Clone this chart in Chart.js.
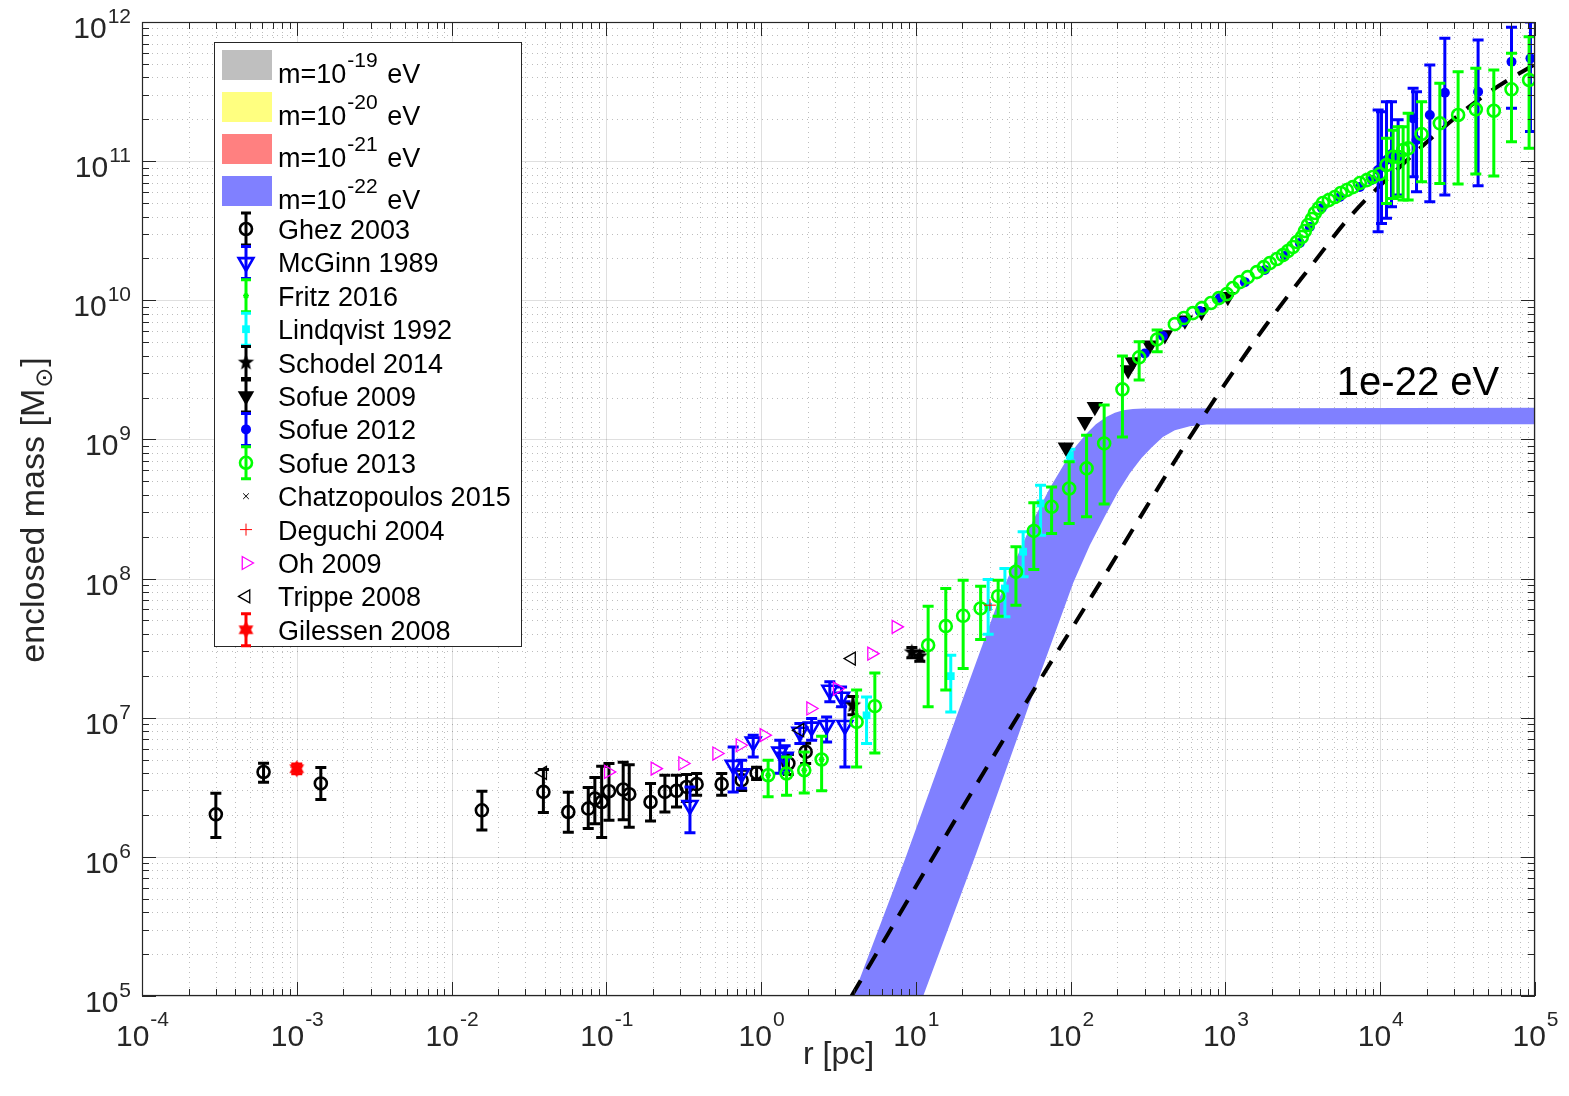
<!DOCTYPE html>
<html>
<head>
<meta charset="utf-8">
<title>Enclosed mass</title>
<script src="https://cdn.jsdelivr.net/npm/chart.js@4.4.1/dist/chart.umd.min.js"></script>
<style>
  html, body { margin: 0; padding: 0; background: #fff; }
</style>
</head>
<body>
<canvas id="massChart" width="1569" height="1096"></canvas>
<script>
// axis ticks (powers of ten)
var xTickExp = [-4, -3, -2, -1, 0, 1, 2, 3, 4, 5];
var yTickExp = [5, 6, 7, 8, 9, 10, 11, 12];

// Ghez 2003
var ghezR  = [3.0e-4, 6.1e-4, 1.43e-3, 0.0157, 0.0392, 0.0568, 0.0764, 0.0843, 0.0933, 0.104, 0.1285, 0.1406, 0.193, 0.239, 0.284, 0.330, 0.383, 0.556, 0.748, 0.935, 1.50, 1.94];
var ghezM  = [2.02e6, 4.07e6, 3.37e6, 2.16e6, 2.93e6, 2.10e6, 2.22e6, 2.62e6, 2.48e6, 2.96e6, 3.05e6, 2.82e6, 2.48e6, 2.93e6, 2.98e6, 3.18e6, 3.33e6, 3.33e6, 3.56e6, 4.01e6, 4.69e6, 5.68e6];
var ghezLo = [1.38e6, 3.44e6, 2.58e6, 1.56e6, 2.08e6, 1.50e6, 1.60e6, 1.73e6, 1.38e6, 1.83e6, 1.85e6, 1.63e6, 1.81e6, 2.10e6, 2.28e6, 2.50e6, 2.77e6, 2.77e6, 3.00e6, 3.60e6, 3.90e6, 4.69e6];
var ghezHi = [2.87e6, 4.71e6, 4.38e6, 2.96e6, 4.25e6, 2.91e6, 3.15e6, 3.72e6, 4.48e6, 4.69e6, 4.79e6, 4.60e6, 3.37e6, 3.86e6, 3.86e6, 3.90e6, 3.97e6, 3.97e6, 4.20e6, 4.40e6, 5.44e6, 6.56e6];

// McGinn 1989
var mcginnR  = [0.347, 0.66, 0.748, 0.889, 1.32, 1.43, 1.78, 2.12, 2.65, 2.78, 3.31, 3.48];
var mcginnM  = [2.35e6, 4.56e6, 3.97e6, 6.70e6, 5.68e6, 5.22e6, 7.9e6, 8.59e6, 8.83e6, 1.58e7, 1.41e7, 8.83e6];
var mcginnLo = [1.49e6, 2.93e6, 3.11e6, 5.22e6, 3.99e6, 4.2e6, 6.52e6, 6.89e6, 6.70e6, 1.30e7, 1.20e7, 4.43e6];
var mcginnHi = [3.18e6, 6.17e6, 4.95e6, 7.48e6, 6.89e6, 6.3e6, 9.08e6, 9.86e6, 1.01e7, 1.81e7, 1.66e7, 1.30e7];

// Fritz 2016
var fritzR = [1.11, 1.46, 1.90, 2.46];
var fritzM = [3.86e6, 3.97e6, 4.19e6, 5.01e6];

// Lindqvist 1992
var lindR  = [4.80, 16.8, 29.3, 37.6, 49.3, 63.9, 98.8];
var lindM  = [1.04e7, 1.99e7, 6.27e7, 8.49e7, 1.56e8, 3.47e8, 7.71e8];
var lindLo = [6.52e6, 1.10e7, 3.98e7, 5.31e7, 1.03e8, 2.05e8, 7.0e8];
var lindHi = [1.41e7, 2.81e7, 9.86e7, 1.18e8, 2.17e8, 4.69e8, 8.5e8];

// Schodel 2014
var schodelR  = [3.92, 9.42, 10.6];
var schodelM  = [1.23e7, 2.96e7, 2.77e7];
var schodelLo = [1.05e7, 2.7e7, 2.55e7];
var schodelHi = [1.42e7, 3.2e7, 3.0e7];

// Sofue 2009
var sofue09R = [93.1, 123.5, 143.3, 235, 252, 325, 406, 547, 701, 1036];
var sofue09M = [8.80e8, 1.34e9, 1.72e9, 3.15e9, 3.60e9, 4.76e9, 5.62e9, 7.2e9, 8.27e9, 1.06e10];

// Sofue 2012
var sofue12R  = [301, 394, 533, 683, 920, 1335, 1797, 2419, 3024, 3509, 4195, 5483, 7384, 8826,
                 9692, 10190, 10980, 11830, 13050, 16310, 17160, 20910, 26150, 42890, 70500, 93500];
var sofue12M  = [4.15e9, 5.53e9, 7.0e9, 8.36e9, 1.04e10, 1.35e10, 1.65e10, 2.08e10, 2.58e10, 3.36e10, 4.60e10, 5.52e10, 6.51e10, 7.31e10,
                 8.63e10, 9.07e10, 1.02e11, 1.125e11, 1.07e11, 2.03e11, 1.42e11, 2.145e11, 3.10e11, 3.15e11, 5.18e11, 5.48e11];
var sofue12Lo = [null, null, null, null, null, null, null, null, null, null, null, null, null, null,
                 3.11e10, 3.57e10, 3.88e10, 4.70e10, 5.71e10, 7.72e10, 6.03e10, 5.11e10, 5.71e10, 6.66e10, 2.40e11, 1.63e11];
var sofue12Hi = [null, null, null, null, null, null, null, null, null, null, null, null, null, null,
                 2.33e11, 2.26e11, 2.67e11, 2.67e11, 1.98e11, 3.34e11, 3.15e11, 4.91e11, 7.63e11, 7.42e11, 9.16e11, 1.0e12];

// Sofue 2013
var sofue13R  = [1.11, 1.46, 1.90, 2.46, 4.14, 5.43, 12.0, 15.6, 20.2, 26.2, 34.0, 44.3, 57.8, 75.3, 97.8, 126.7, 164.6, 216, 277, 362,
                 471, 539, 616, 704, 805, 907, 1021, 1116, 1239, 1395, 1595, 1771, 1935, 2148, 2349, 2531, 2725, 2892, 3115, 3258, 3406,
                 3615, 3780, 4012, 4258, 4656, 5089, 5566, 6085, 6653, 7384, 8190, 8959, 9940,
                 10980, 12120, 13050, 14060, 15150, 18490, 24270, 31860, 41460, 54180, 70500, 91600];
var sofue13M  = [3.86e6, 3.97e6, 4.19e6, 5.01e6, 9.33e6, 1.21e7, 3.32e7, 4.55e7, 5.40e7, 6.10e7, 7.47e7, 1.12e8, 2.20e8, 3.28e8, 4.44e8, 6.19e8, 9.36e8, 2.29e9, 3.89e9, 5.23e9,
                 6.74e9, 7.45e9, 8.09e9, 8.79e9, 9.55e9, 1.037e10, 1.108e10, 1.224e10, 1.351e10, 1.468e10, 1.594e10, 1.732e10, 1.851e10, 1.978e10, 2.113e10, 2.258e10, 2.413e10, 2.621e10, 2.847e10, 3.145e10, 3.472e10,
                 3.834e10, 4.236e10, 4.60e10, 4.998e10, 5.25e10, 5.52e10, 5.90e10, 6.197e10, 6.51e10, 6.96e10, 7.31e10, 7.69e10, 8.08e10,
                 9.38e10, 1.075e11, 1.075e11, 1.202e11, 1.236e11, 1.566e11, 1.870e11, 2.145e11, 2.357e11, 2.303e11, 3.283e11, 3.828e11];
var sofue13Lo = [2.70e6, 2.77e6, 2.88e6, 2.98e6, 4.43e6, 5.58e6, 1.20e7, 1.58e7, 2.26e7, 3.65e7, 5.37e7, 6.44e7, 1.16e8, 2.11e8, 2.49e8, 2.78e8, 3.43e8, 1.04e9, 2.67e9, 4.26e9,
                 null, null, null, null, null, null, null, null, null, null, null, null, null, null, null, null, null, null, null, null, null,
                 null, null, null, null, null, null, null, null, null, null, null, null, null,
                 4.97e10, 5.40e10, 5.55e10, 5.25e10, 5.25e10, 7.11e10, 6.92e10, 6.84e10, 8.08e10, 7.81e10, 1.38e11, 1.24e11];
var sofue13Hi = [4.95e6, 5.23e6, 5.68e6, 7.36e6, 1.58e7, 2.10e7, 6.33e7, 8.49e7, 9.74e7, 8.82e7, 9.74e7, 1.69e8, 3.50e8, 4.56e8, 6.90e8, 1.07e9, 1.77e9, 3.97e9, 5.03e9, 6.11e9,
                 null, null, null, null, null, null, null, null, null, null, null, null, null, null, null, null, null, null, null, null, null,
                 null, null, null, null, null, null, null, null, null, null, null, null, null,
                 1.46e11, 1.67e11, 1.77e11, 1.77e11, 2.21e11, 2.67e11, 3.63e11, 4.39e11, 4.65e11, 4.52e11, 5.96e11, 7.84e11];

// single markers
var chatzR = [3.86, 10.0];
var chatzM = [1.17e7, 2.81e7];
var deguchiR = [30.1];
var deguchiM = [6.44e7];
var ohR = [0.103, 0.206, 0.311, 0.516, 0.73, 1.043, 2.088, 3.10, 5.17, 7.43];
var ohM = [4.08e6, 4.31e6, 4.69e6, 5.53e6, 6.34e6, 7.49e6, 1.165e7, 1.62e7, 2.89e7, 4.50e7];
var trippeR = [0.0388, 1.78, 3.84];
var trippeM = [4.01e6, 8.13e6, 2.66e7];
var gilR  = [1.0e-3];
var gilM  = [4.3e6];
var gilLo = [3.95e6];
var gilHi = [4.65e6];

// m = 1e-22 eV band, upper and lower edge
var bandUpperR = [3.94, 8.62, 18.1, 34.9, 44.9, 57.3, 73.4, 94.1, 108.1, 126.7, 145.5, 170.6, 193, 218.3, 252, 294, 1e5];
var bandUpperM = [1e5, 1e6, 9.87e6, 7.39e7, 1.425e8, 2.63e8, 4.47e8, 7.10e8, 8.95e8, 1.104e9, 1.288e9, 1.454e9, 1.558e9, 1.624e9, 1.657e9, 1.670e9, 1.687e9];
var bandLowerR = [3.94, 11.15, 24.7, 60.2, 103.8, 133, 166.3, 201.8, 241.3, 287, 334.6, 394, 471, 588.8, 758.5, 1e5];
var bandLowerM = [1e5, 1e5, 1.08e6, 1.75e7, 9.3e7, 1.739e8, 2.81e8, 4.18e8, 5.72e8, 7.34e8, 8.80e8, 1.039e9, 1.166e9, 1.246e9, 1.281e9, 1.288e9];

// dashed curve
var dashR = [3.84, 19.2, 63.2, 154.4, 651, 1797, 3686, 6363, 12740, 31120, 51050, 1e5];
var dashM = [1e5, 2.09e6, 1.86e7, 9.27e7, 1.232e9, 6.45e9, 1.842e10, 3.98e10, 8.63e10, 2.085e11, 3.15e11, 4.99e11];

var FONT = '"Liberation Sans", Arial, Helvetica, "DejaVu Sans", sans-serif';
var AXIS = '#262626';

function pts(r, m) {
  return r.map(function (v, i) { return { x: v, y: m[i] }; });
}

function starCanvas(n, outer, inner, color) {
  var c = document.createElement('canvas');
  var s = Math.ceil(outer * 2 + 2);
  c.width = s; c.height = s;
  var g = c.getContext('2d');
  g.fillStyle = color;
  g.beginPath();
  for (var i = 0; i < 2 * n; i++) {
    var rr = i % 2 ? inner : outer;
    var a = -Math.PI / 2 + i * Math.PI / n;
    g.lineTo(s / 2 + rr * Math.cos(a), s / 2 + rr * Math.sin(a));
  }
  g.closePath();
  g.fill();
  return c;
}
var pentagram = starCanvas(5, 8.5, 3.6, '#000000');
var hexagram = starCanvas(6, 8.5, 5, '#ff0000');

var NONE = 'rgba(0,0,0,0)';

var datasets = [
  { label: 'Ghez 2003', data: pts(ghezR, ghezM), errLo: ghezLo, errHi: ghezHi, errColor: '#000000',
    pointStyle: 'circle', pointRadius: 6, pointBorderWidth: 2.6, borderColor: '#000000', backgroundColor: NONE, order: 0 },
  { label: 'McGinn 1989', data: pts(mcginnR, mcginnM), errLo: mcginnLo, errHi: mcginnHi, errColor: '#0000ff',
    pointStyle: 'triangle', pointRotation: 180, pointRadius: 8.5, pointBorderWidth: 2.6, borderColor: '#0000ff', backgroundColor: NONE, order: -1 },
  { label: 'Fritz 2016', data: pts(fritzR, fritzM), errColor: '#00ff00',
    pointStyle: 'star', pointRadius: 3, pointBorderWidth: 1.5, borderColor: '#00ff00', backgroundColor: '#00ff00', order: -2 },
  { label: 'Lindqvist 1992', data: pts(lindR, lindM), errLo: lindLo, errHi: lindHi, errColor: '#00ffff',
    pointStyle: 'rect', pointRadius: 5.5, pointBorderWidth: 0, borderColor: '#00ffff', backgroundColor: '#00ffff', order: -3 },
  { label: 'Schodel 2014', data: pts(schodelR, schodelM), errLo: schodelLo, errHi: schodelHi, errColor: '#000000',
    pointStyle: pentagram, pointRadius: 8, order: -4 },
  { label: 'Sofue 2009', data: pts(sofue09R, sofue09M), errColor: '#000000',
    pointStyle: 'triangle', pointRotation: 180, pointRadius: 9.5, pointBorderWidth: 0, borderColor: '#000000', backgroundColor: '#000000', order: -5 },
  { label: 'Sofue 2012', data: pts(sofue12R, sofue12M), errLo: sofue12Lo, errHi: sofue12Hi, errColor: '#0000ff',
    pointStyle: 'circle', pointRadius: 5, pointBorderWidth: 0, borderColor: '#0000ff', backgroundColor: '#0000ff', order: -6 },
  { label: 'Sofue 2013', data: pts(sofue13R, sofue13M), errLo: sofue13Lo, errHi: sofue13Hi, errColor: '#00ff00',
    pointStyle: 'circle', pointRadius: 6, pointBorderWidth: 2.6, borderColor: '#00ff00', backgroundColor: NONE, order: -7 },
  { label: 'Chatzopoulos 2015', data: pts(chatzR, chatzM),
    pointStyle: 'crossRot', pointRadius: 4, pointBorderWidth: 1, borderColor: '#000000', backgroundColor: '#000000', order: -8 },
  { label: 'Deguchi 2004', data: pts(deguchiR, deguchiM),
    pointStyle: 'cross', pointRadius: 6, pointBorderWidth: 1, borderColor: '#ff0000', backgroundColor: '#ff0000', order: -9 },
  { label: 'Oh 2009', data: pts(ohR, ohM),
    pointStyle: 'triangle', pointRotation: 90, pointRadius: 7.5, pointBorderWidth: 1.3, borderColor: '#ff00ff', backgroundColor: NONE, order: -10 },
  { label: 'Trippe 2008', data: pts(trippeR, trippeM),
    pointStyle: 'triangle', pointRotation: 270, pointRadius: 7.5, pointBorderWidth: 1.3, borderColor: '#000000', backgroundColor: NONE, order: -11 },
  { label: 'Gilessen 2008', data: pts(gilR, gilM), errLo: gilLo, errHi: gilHi, errColor: '#ff0000',
    pointStyle: hexagram, pointRadius: 8, order: -12 },
  { label: 'dashed', type: 'line', data: pts(dashR, dashM), borderColor: '#000000', borderWidth: 4,
    borderDash: [18, 13], pointRadius: 0, fill: false, cubicInterpolationMode: 'monotone', order: 5 },
  { label: 'band upper', type: 'line', data: pts(bandUpperR, bandUpperM), borderWidth: 0, borderColor: '#8080ff',
    pointRadius: 0, fill: '+1', backgroundColor: '#8080ff', tension: 0, order: 10 },
  { label: 'band lower', type: 'line', data: pts(bandLowerR, bandLowerM), borderWidth: 0, borderColor: '#8080ff',
    pointRadius: 0, fill: false, tension: 0, order: 11 }
];

// error bars, drawn just before each dataset's markers
var errorBars = {
  id: 'errorBars',
  beforeDatasetDraw: function (chart, args) {
    var ds = chart.data.datasets[args.index];
    if (!ds.errLo) return;
    var ctx = chart.ctx, a = chart.chartArea, xs = chart.scales.x, ys = chart.scales.y;
    ctx.save();
    ctx.beginPath();
    ctx.rect(a.left, a.top, a.right - a.left, a.bottom - a.top);
    ctx.clip();
    ctx.strokeStyle = ds.errColor;
    ctx.lineWidth = 3;
    ds.data.forEach(function (p, i) {
      var lo = ds.errLo[i], hi = ds.errHi[i];
      if (lo == null || hi == null) return;
      var px = xs.getPixelForValue(p.x);
      var y1 = ys.getPixelForValue(hi), y2 = ys.getPixelForValue(lo);
      ctx.beginPath();
      ctx.moveTo(px, y1); ctx.lineTo(px, y2);
      ctx.moveTo(px - 5.5, y1); ctx.lineTo(px + 5.5, y1);
      ctx.moveTo(px - 5.5, y2); ctx.lineTo(px + 5.5, y2);
      ctx.stroke();
    });
    ctx.restore();
  }
};

// grid like MATLAB: solid major lines, dotted minor lines
var grid = {
  id: 'grid',
  beforeDatasetsDraw: function (chart) {
    var ctx = chart.ctx, a = chart.chartArea, xs = chart.scales.x, ys = chart.scales.y;
    ctx.save();
    ctx.lineWidth = 1;
    ctx.strokeStyle = 'rgba(38,38,38,0.3)';
    ctx.setLineDash([1, 4]);
    xTickExp.slice(0, -1).forEach(function (e) {
      for (var k = 2; k <= 9; k++) {
        var px = Math.round(xs.getPixelForValue(k * Math.pow(10, e))) + 0.5;
        ctx.beginPath(); ctx.moveTo(px, a.top); ctx.lineTo(px, a.bottom); ctx.stroke();
      }
    });
    yTickExp.slice(0, -1).forEach(function (e) {
      for (var k = 2; k <= 9; k++) {
        var py = Math.round(ys.getPixelForValue(k * Math.pow(10, e))) + 0.5;
        ctx.beginPath(); ctx.moveTo(a.left, py); ctx.lineTo(a.right, py); ctx.stroke();
      }
    });
    ctx.setLineDash([]);
    ctx.strokeStyle = 'rgba(38,38,38,0.15)';
    xTickExp.forEach(function (e) {
      var px = Math.round(xs.getPixelForValue(Math.pow(10, e))) + 0.5;
      ctx.beginPath(); ctx.moveTo(px, a.top); ctx.lineTo(px, a.bottom); ctx.stroke();
    });
    yTickExp.forEach(function (e) {
      var py = Math.round(ys.getPixelForValue(Math.pow(10, e))) + 0.5;
      ctx.beginPath(); ctx.moveTo(a.left, py); ctx.lineTo(a.right, py); ctx.stroke();
    });
    ctx.restore();
  }
};

function powLabel(ctx, x, baseY, supY, exp, align) {
  var base = '10', sup = String(exp);
  ctx.font = '30px ' + FONT;
  var wb = ctx.measureText(base).width;
  ctx.font = '21px ' + FONT;
  var ws = ctx.measureText(sup).width;
  var x0 = align === 'right' ? x - wb - ws : x - (wb + ws) / 2;
  ctx.textAlign = 'left';
  ctx.textBaseline = 'alphabetic';
  ctx.font = '30px ' + FONT;
  ctx.fillText(base, x0, baseY);
  ctx.font = '21px ' + FONT;
  ctx.fillText(sup, x0 + wb + 1, supY);
}

function drawMarker(ctx, ds, x, y) {
  var st = ds.pointStyle, r = ds.pointRadius;
  ctx.save();
  if (typeof st === 'object') {
    ctx.drawImage(st, x - st.width / 2, y - st.height / 2);
    ctx.restore();
    return;
  }
  ctx.translate(x, y);
  ctx.rotate((ds.pointRotation || 0) * Math.PI / 180);
  ctx.beginPath();
  if (st === 'circle') {
    ctx.arc(0, 0, r, 0, 2 * Math.PI);
  } else if (st === 'triangle') {
    for (var i = 0; i < 3; i++) {
      var ang = i * 2 * Math.PI / 3;
      ctx.lineTo(Math.sin(ang) * r, -Math.cos(ang) * r);
    }
    ctx.closePath();
  } else if (st === 'rect') {
    var s = r * Math.SQRT1_2;
    ctx.rect(-s, -s, 2 * s, 2 * s);
  } else if (st === 'cross' || st === 'star') {
    ctx.moveTo(0, -r); ctx.lineTo(0, r); ctx.moveTo(-r, 0); ctx.lineTo(r, 0);
    if (st === 'star') {
      var d = r * Math.SQRT1_2;
      ctx.moveTo(-d, -d); ctx.lineTo(d, d); ctx.moveTo(-d, d); ctx.lineTo(d, -d);
    }
  } else if (st === 'crossRot') {
    var q = r * Math.SQRT1_2;
    ctx.moveTo(-q, -q); ctx.lineTo(q, q); ctx.moveTo(-q, q); ctx.lineTo(q, -q);
  }
  ctx.fillStyle = ds.backgroundColor;
  ctx.strokeStyle = ds.borderColor;
  ctx.lineWidth = ds.pointBorderWidth || 0;
  if (st !== 'cross' && st !== 'crossRot' && st !== 'star') ctx.fill();
  if (ds.pointBorderWidth) ctx.stroke();
  ctx.restore();
}

var frame = {
  id: 'frame',
  afterDatasetsDraw: function (chart) {
    var ctx = chart.ctx, a = chart.chartArea, xs = chart.scales.x, ys = chart.scales.y;
    ctx.save();
    ctx.strokeStyle = AXIS;
    ctx.lineWidth = 1.2;
    ctx.strokeRect(a.left + 0.5, a.top + 0.5, a.right - a.left - 1, a.bottom - a.top - 1);
    ctx.lineWidth = 1;
    function xt(v, len) {
      var px = Math.round(xs.getPixelForValue(v)) + 0.5;
      ctx.beginPath();
      ctx.moveTo(px, a.bottom); ctx.lineTo(px, a.bottom - len);
      ctx.moveTo(px, a.top); ctx.lineTo(px, a.top + len);
      ctx.stroke();
    }
    function yt(v, len) {
      var py = Math.round(ys.getPixelForValue(v)) + 0.5;
      ctx.beginPath();
      ctx.moveTo(a.left, py); ctx.lineTo(a.left + len, py);
      ctx.moveTo(a.right, py); ctx.lineTo(a.right - len, py);
      ctx.stroke();
    }
    xTickExp.forEach(function (e, i) {
      xt(Math.pow(10, e), 14);
      if (i < xTickExp.length - 1) for (var k = 2; k <= 9; k++) xt(k * Math.pow(10, e), 7);
    });
    yTickExp.forEach(function (e, i) {
      yt(Math.pow(10, e), 14);
      if (i < yTickExp.length - 1) for (var k = 2; k <= 9; k++) yt(k * Math.pow(10, e), 7);
    });
    ctx.restore();
  },
  afterDraw: function (chart) {
    var ctx = chart.ctx, a = chart.chartArea, xs = chart.scales.x, ys = chart.scales.y;
    ctx.save();
    ctx.fillStyle = AXIS;
    xTickExp.forEach(function (e) {
      powLabel(ctx, xs.getPixelForValue(Math.pow(10, e)), a.bottom + 50, a.bottom + 30, e, 'center');
    });
    yTickExp.forEach(function (e) {
      var py = ys.getPixelForValue(Math.pow(10, e));
      powLabel(ctx, a.left - 12, py + 16, py + 1, e, 'right');
    });

    // axis titles
    ctx.font = '32px ' + FONT;
    ctx.textAlign = 'center';
    ctx.fillText('r [pc]', (a.left + a.right) / 2, 1064);

    ctx.save();
    ctx.translate(44, 510);
    ctx.rotate(-Math.PI / 2);
    ctx.font = '34px ' + FONT;
    var t1 = 'enclosed mass [M', t3 = ']';
    var w1 = ctx.measureText(t1).width, w3 = ctx.measureText(t3).width;
    ctx.font = '24px ' + FONT;
    var t2 = '\u2299', w2 = ctx.measureText(t2).width;
    var sx = -(w1 + w2 + w3 + 2) / 2;
    ctx.textAlign = 'left';
    ctx.font = '34px ' + FONT;
    ctx.fillText(t1, sx, 0);
    ctx.font = '24px ' + FONT;
    ctx.fillText(t2, sx + w1 + 1, 8);
    ctx.font = '34px ' + FONT;
    ctx.fillText(t3, sx + w1 + w2 + 2, 0);
    ctx.restore();

    // curve annotation
    ctx.fillStyle = '#000000';
    ctx.font = '40px ' + FONT;
    ctx.textAlign = 'left';
    ctx.fillText('1e-22 eV', xs.getPixelForValue(5244), ys.getPixelForValue(2.08e9));

    // legend
    ctx.fillStyle = '#ffffff';
    ctx.fillRect(214, 42, 308, 605);
    ctx.strokeStyle = AXIS;
    ctx.lineWidth = 1;
    ctx.strokeRect(214.5, 42.5, 307, 604);

    var patches = [['#bfbfbf', '-19'], ['#ffff80', '-20'], ['#ff8080', '-21'], ['#8080ff', '-22']];
    patches.forEach(function (p, i) {
      var top = 50 + i * 42;
      ctx.fillStyle = p[0];
      ctx.fillRect(222, top, 50, 30);
      ctx.fillStyle = '#000000';
      ctx.font = '27px ' + FONT;
      ctx.fillText('m=10', 278, top + 33);
      var w = ctx.measureText('m=10').width;
      ctx.font = '21px ' + FONT;
      ctx.fillText(p[1], 278 + w + 1, top + 17);
      var ws = ctx.measureText(p[1]).width;
      ctx.font = '27px ' + FONT;
      ctx.fillText(' eV', 278 + w + ws + 3, top + 33);
    });

    var withBar = { 'Ghez 2003': 1, 'McGinn 1989': 1, 'Fritz 2016': 1, 'Lindqvist 1992': 1, 'Schodel 2014': 1,
                    'Sofue 2009': 1, 'Sofue 2012': 1, 'Sofue 2013': 1, 'Gilessen 2008': 1 };
    chart.data.datasets.slice(0, 13).forEach(function (ds, i) {
      var cy = 229 + i * 33.4;
      if (withBar[ds.label]) {
        ctx.strokeStyle = ds.errColor;
        ctx.lineWidth = 3;
        ctx.beginPath();
        ctx.moveTo(246, cy - 16); ctx.lineTo(246, cy + 16);
        ctx.moveTo(241, cy - 16); ctx.lineTo(251, cy - 16);
        ctx.moveTo(241, cy + 16); ctx.lineTo(251, cy + 16);
        ctx.stroke();
      }
      drawMarker(ctx, ds, 246, cy);
      ctx.fillStyle = '#000000';
      ctx.font = '27px ' + FONT;
      ctx.textAlign = 'left';
      ctx.fillText(ds.label, 278, cy + 10);
    });
    ctx.restore();
  }
};

var massChart = new Chart(document.getElementById('massChart').getContext('2d'), {
  type: 'scatter',
  data: { datasets: datasets },
  options: {
    responsive: false,
    animation: false,
    devicePixelRatio: 1,
    layout: { padding: { left: 142, right: 34, top: 22, bottom: 100 } },
    plugins: { legend: { display: false }, tooltip: { enabled: false } },
    scales: {
      x: { type: 'logarithmic', min: 1e-4, max: 1e5, display: false },
      y: { type: 'logarithmic', min: 1e5, max: 1e12, display: false }
    }
  },
  plugins: [grid, errorBars, frame]
});
</script>
</body>
</html>
